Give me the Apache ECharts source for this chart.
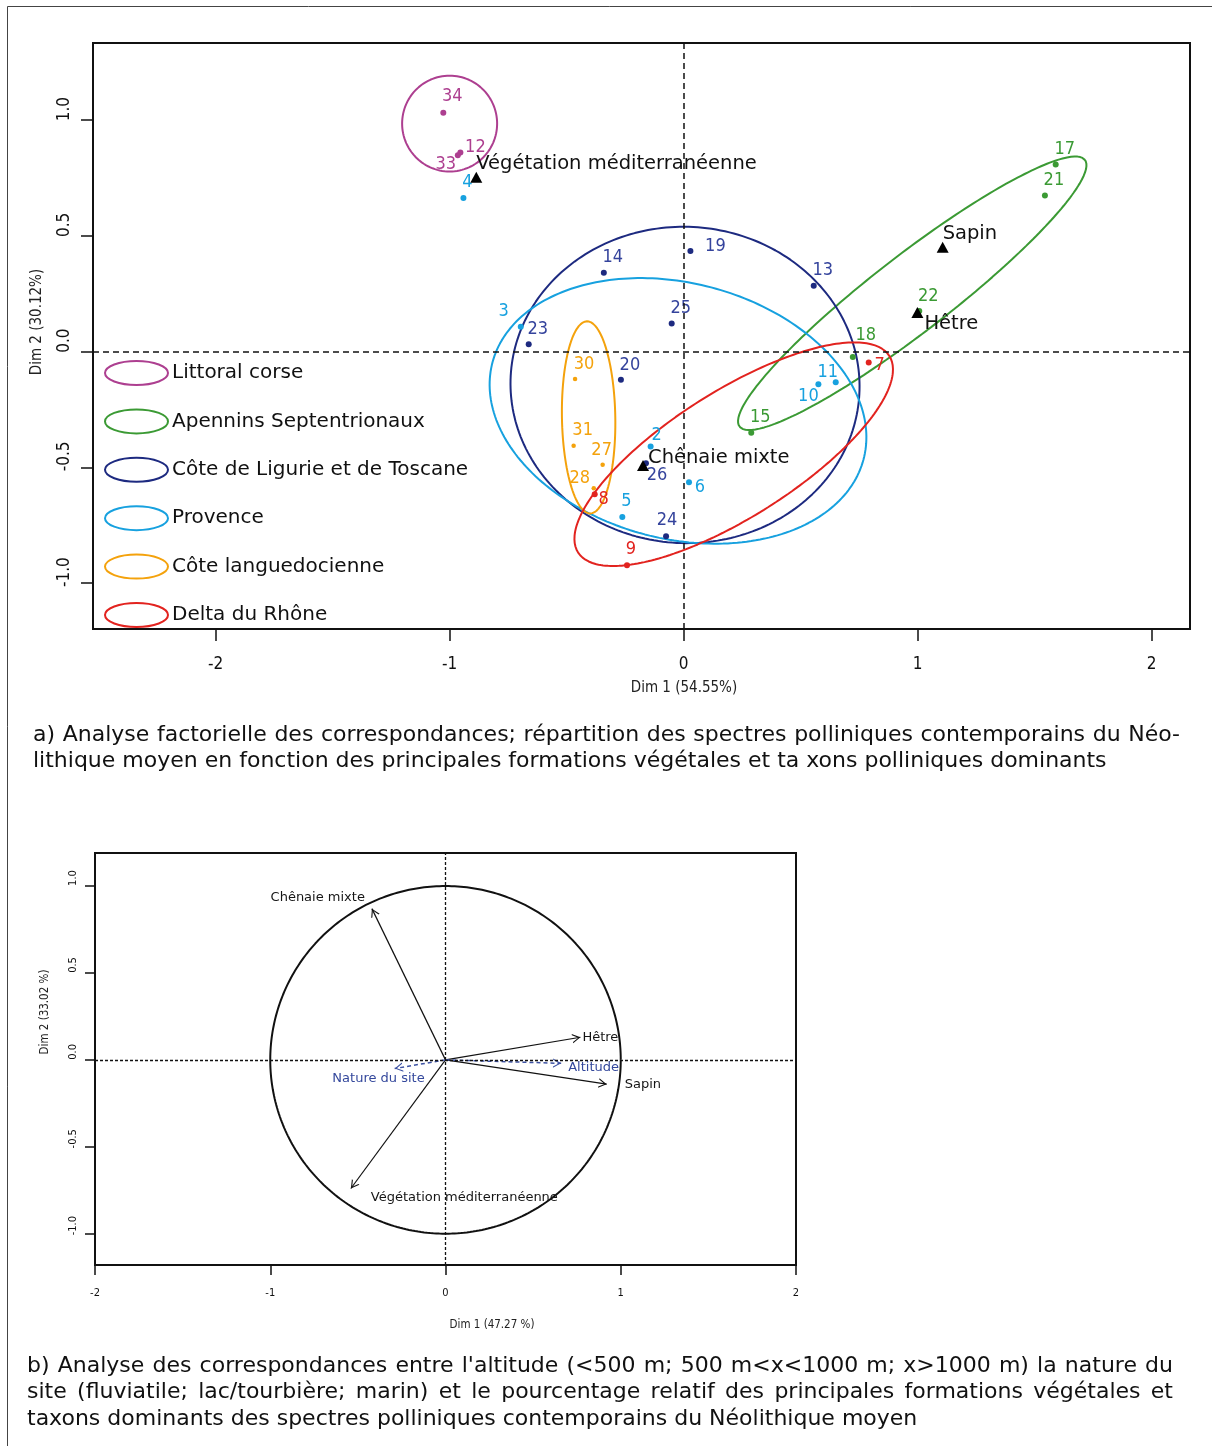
<!DOCTYPE html>
<html>
<head>
<meta charset="utf-8">
<script src="https://cdn.jsdelivr.net/npm/echarts@6/dist/echarts.min.js"></script>
<style>
  html, body { margin: 0; padding: 0; background: #fff; }
  #chart { width: 1212px; height: 1446px; }
</style>
</head>
<body>
<div id="chart"></div>
<script>
// ---- (a) site scores on Dim 1 / Dim 2: [site number, Dim 1, Dim 2] ----
const littoralCorse = [[34, -1.027, 1.032], [12, -0.954, 0.860], [33, -0.965, 0.848]];
const apennins = [[17, 1.590, 0.808], [21, 1.544, 0.674], [22, 1.007, 0.176], [18, 0.723, -0.023], [15, 0.289, -0.350]];
const ligurieToscane = [[14, -0.341, 0.341], [19, 0.029, 0.435], [13, 0.556, 0.285], [23, -0.662, 0.032],
                        [25, -0.051, 0.121], [20, -0.268, -0.122], [26, -0.161, -0.482], [24, -0.075, -0.797]];
const provence = [[3, -0.696, 0.107], [4, -0.941, 0.664], [2, -0.141, -0.410], [5, -0.262, -0.714],
                  [6, 0.023, -0.564], [10, 0.576, -0.141], [11, 0.650, -0.132]];
const languedoc = [[30, -0.464, -0.118], [31, -0.470, -0.406], [27, -0.346, -0.489], [28, -0.384, -0.590]];
const deltaRhone = [[7, 0.791, -0.047], [8, -0.380, -0.616], [9, -0.242, -0.923]];

// dominant taxa / vegetation formations: [name, Dim 1, Dim 2]
const taxaA = [['Végétation méditerranéenne', -0.886, 0.753], ['Chênaie mixte', -0.1735, -0.492],
               ['Sapin', 1.107, 0.451], ['Hêtre', 0.999, 0.169]];

// group ellipses: [centre Dim 1, centre Dim 2, semi-axis a, semi-axis b, rotation in degrees]
const ellLittoralCorse = [-1.000, 0.985, 0.203, 0.207, 0];
const ellApennins = [0.977, 0.252, 0.936, 0.165, 38];
const ellLigurieToscane = [0.006, -0.144, 0.746, 0.683, -3];
const ellProvence = [-0.024, -0.256, 0.820, 0.552, -14.9];
const ellLanguedoc = [-0.406, -0.284, 0.114, 0.415, 1];
const ellDeltaRhone = [0.214, -0.443, 0.789, 0.272, 32.6];

const ticksAx = [-2, -1, 0, 1, 2];
const ticksAy = [-1, -0.5, 0, 0.5, 1];

// ---- (b) correlation circle: [variable, Dim 1, Dim 2] ----
const activeVars = [['Chênaie mixte', -0.42, 0.87], ['Hêtre', 0.77, 0.13], ['Sapin', 0.92, -0.14],
                    ['Végétation méditerranéenne', -0.54, -0.74]];
const supplementaryVars = [['Altitude', 0.66, -0.02], ['Nature du site', -0.29, -0.05]];
const ticksBx = [-2, -1, 0, 1, 2];
const ticksBy = [-1, -0.5, 0, 0.5, 1];

const captionA = [
  'a) Analyse factorielle des correspondances; répartition des spectres polliniques contemporains du Néo-',
  'lithique moyen en fonction des principales formations végétales et ta xons polliniques dominants'
];
const captionB = [
  "b) Analyse des correspondances entre l'altitude (<500 m; 500 m<x<1000 m; x>1000 m) la nature du",
  'site (fluviatile; lac/tourbière; marin) et le pourcentage relatif des principales formations végétales et',
  'taxons dominants des spectres polliniques contemporains du Néolithique moyen'
];

// ---- styling / layout ----
const NUM = '"Liberation Sans Narrow", "Arial Narrow", "DejaVu Sans Condensed", sans-serif';
const TXT = '"DejaVu Sans", Verdana, sans-serif';
const COND = '"DejaVu Sans Condensed", "DejaVu Sans", sans-serif';

const groups = [
  { name: 'Littoral corse', color: '#ad3f90', pts: littoralCorse, ell: ellLittoralCorse, dot: 6 },
  { name: 'Apennins Septentrionaux', color: '#3b9a34', pts: apennins, ell: ellApennins, dot: 6 },
  { name: 'Côte de Ligurie et de Toscane', color: '#1d2a80', pts: ligurieToscane, ell: ellLigurieToscane, dot: 6, text: '#34439c' },
  { name: 'Provence', color: '#17a1df', pts: provence, ell: ellProvence, dot: 6 },
  { name: 'Côte languedocienne', color: '#f4a20c', pts: languedoc, ell: ellLanguedoc, dot: 4.5 },
  { name: 'Delta du Rhône', color: '#e2231f', pts: deltaRhone, ell: ellDeltaRhone, dot: 6 }
];

// label placement around each site dot (pixels, label centre relative to dot)
const siteLabelDefault = [9, -15];
const siteLabelNudge = {
  34: [9, -16], 12: [15, -5], 33: [-12, 9], 4: [4, -16], 19: [25, -5], 3: [-17, -16], 18: [13, -22],
  7: [11, 3], 11: [-8, -10], 10: [-10, 12], 2: [6, -11], 27: [-1, -15], 28: [-14, -10], 8: [9, 5],
  26: [11, 12], 6: [11, 5], 5: [4, -16], 24: [1, -16], 9: [4, -16]
};
const taxonLabelA = {
  'Végétation méditerranéenne': [0, -13], 'Chênaie mixte': [5, -8], 'Sapin': [0, -13], 'Hêtre': [7, 11]
};
const varLabelB = {
  'Chênaie mixte': ['right', -7, -11], 'Hêtre': ['left', 2, 0], 'Sapin': ['left', 18, 0],
  'Végétation méditerranéenne': ['left', 20, 9], 'Altitude': ['left', 7, 4], 'Nature du site': ['right', 30, 10]
};

// outline of an ellipse in data coordinates
function ellipseOutline(e, n) {
  const [cx, cy, a, b, deg] = e;
  const r = deg * Math.PI / 180, c = Math.cos(r), s = Math.sin(r);
  const out = [];
  for (let i = 0; i <= n; i++) {
    const t = 2 * Math.PI * i / n;
    const u = a * Math.cos(t), v = b * Math.sin(t);
    out.push([cx + u * c - v * s, cy + u * s + v * c]);
  }
  return out;
}

// open arrow head, tip at the centre of its box so it ends exactly on the vector end
const ARROW = 'path://M0,0L0.01,0L0,0.01Z M20,20L19.99,20L20,19.99Z M4.8,19 L10,10 L15.2,19 L13.8,19 L10,12.4 L6.2,19 Z';
const LEGEND_ICON = 'path://M0,12A31.5,12,0,1,1,63,12A31.5,12,0,1,1,0,12Z';

// caption rows; justified rows spread their words between x0 and x1
const measureCtx = document.createElement('canvas').getContext('2d');
function textRow(str, x0, x1, y, size, justify) {
  const style = (t) => ({ text: t, fontSize: size, fontFamily: TXT, fill: '#111', align: 'left', verticalAlign: 'middle' });
  if (!justify) return [{ type: 'text', x: x0, y: y, silent: true, style: style(str) }];
  measureCtx.font = size + 'px ' + TXT;
  const words = str.split(' ');
  const w = words.map(t => measureCtx.measureText(t).width);
  const gap = (x1 - x0 - w.reduce((p, q) => p + q, 0)) / (words.length - 1);
  let x = x0;
  return words.map((t, i) => {
    const el = { type: 'text', x: x, y: y, silent: true, style: style(t) };
    x += w[i] + gap;
    return el;
  });
}

const series = [];

// (a) group ellipses
groups.forEach(g => {
  series.push({
    type: 'line', name: g.name, xAxisIndex: 0, yAxisIndex: 0, z: 2, silent: true,
    showSymbol: false, symbol: 'none', animation: false,
    lineStyle: { color: g.color, width: 2 },
    data: ellipseOutline(g.ell, 240)
  });
});
// (a) site dots with their numbers
groups.forEach(g => {
  series.push({
    type: 'scatter', name: g.name, xAxisIndex: 0, yAxisIndex: 0, z: 3, silent: true,
    symbol: 'circle', symbolSize: g.dot, itemStyle: { color: g.color, opacity: 1 },
    label: {
      show: true, position: 'inside', align: 'center', verticalAlign: 'middle', formatter: '{b}',
      color: g.text || g.color, fontSize: 18, fontFamily: NUM
    },
    data: g.pts.map(p => ({
      name: String(p[0]), value: [p[1], p[2]],
      label: { offset: siteLabelNudge[p[0]] || siteLabelDefault }
    }))
  });
});
// (a) taxa triangles + dashed origin axes
series.push({
  type: 'scatter', name: 'taxons', xAxisIndex: 0, yAxisIndex: 0, z: 4, silent: true,
  symbol: 'triangle', symbolSize: [12, 11], itemStyle: { color: '#000', opacity: 1 },
  label: {
    show: true, position: 'inside', align: 'left', verticalAlign: 'middle', formatter: '{b}',
    color: '#111', fontSize: 19.5, fontFamily: TXT
  },
  data: taxaA.map(t => ({ name: t[0], value: [t[1], t[2]], label: { offset: taxonLabelA[t[0]] } })),
  markLine: {
    silent: true, symbol: 'none', label: { show: false }, animation: false,
    lineStyle: { color: '#111', type: [6, 4], width: 1.5 },
    data: [{ xAxis: 0 }, { yAxis: 0 }]
  }
});

// (b) correlation circle and dashed origin axes
series.push({
  type: 'line', name: 'cercle', xAxisIndex: 1, yAxisIndex: 1, z: 2, silent: true,
  showSymbol: false, symbol: 'none', lineStyle: { color: '#111', width: 2 },
  data: ellipseOutline([0, 0, 1, 1, 0], 360),
  markLine: {
    silent: true, symbol: 'none', label: { show: false }, animation: false,
    lineStyle: { color: '#111', type: [3, 2], width: 1.3 },
    data: [{ xAxis: 0 }, { yAxis: 0 }]
  }
});
// (b) active variable arrows
series.push({
  type: 'lines', coordinateSystem: 'cartesian2d', xAxisIndex: 1, yAxisIndex: 1, z: 4, silent: true,
  symbol: ['none', ARROW], symbolSize: 18,
  lineStyle: { color: '#111', width: 1.2, opacity: 1, curveness: 0 },
  data: activeVars.map(v => ({ coords: [[0, 0], [v[1], v[2]]] }))
});
// (b) supplementary variable arrows (dashed)
series.push({
  type: 'lines', coordinateSystem: 'cartesian2d', xAxisIndex: 1, yAxisIndex: 1, z: 4, silent: true,
  symbol: ['none', ARROW], symbolSize: 18,
  lineStyle: { color: '#3d52a3', width: 1.5, opacity: 1, type: [4, 3], curveness: 0 },
  data: supplementaryVars.map(v => ({ coords: [[0, 0], [v[1], v[2]]] }))
});
// (b) arrow names
function varLabels(list, color) {
  return {
    type: 'scatter', xAxisIndex: 1, yAxisIndex: 1, z: 5, silent: true,
    symbolSize: 1, itemStyle: { color: 'rgba(0,0,0,0)', opacity: 1 },
    label: { show: true, position: 'inside', verticalAlign: 'middle', formatter: '{b}', color: color, fontSize: 13, fontFamily: TXT, opacity: 1 },
    data: list.map(v => {
      const l = varLabelB[v[0]];
      return { name: v[0], value: [v[1], v[2]], label: { align: l[0], offset: [l[1], l[2]] } };
    })
  };
}
series.push(varLabels(activeVars, '#151515'));
series.push(varLabels(supplementaryVars, '#34489c'));

function valueAxis(gridIndex, min, max, ticks, opts) {
  return {
    type: 'value', gridIndex: gridIndex, min: min, max: max,
    axisLine: { show: false, onZero: false }, splitLine: { show: false },
    axisTick: { show: true, customValues: ticks, length: opts.tick, lineStyle: { color: '#111', width: 1.5 } },
    axisLabel: {
      customValues: ticks, margin: opts.margin, color: '#111', fontSize: opts.font, fontFamily: NUM,
      rotate: opts.rotate || 0, padding: opts.padding || 0, formatter: opts.fmt
    }
  };
}

const graphics = [
  { type: 'polyline', silent: true, shape: { points: [[7.5, 1446], [7.5, 6.5], [1212, 6.5]] }, style: { stroke: '#444', lineWidth: 1, fill: null } },
  { type: 'text', x: 684, y: 688, silent: true, style: { text: 'Dim 1 (54.55%)', fontSize: 15, fontFamily: COND, fill: '#222', align: 'center', verticalAlign: 'middle' } },
  { type: 'text', x: 37, y: 322, rotation: Math.PI / 2, silent: true, style: { text: 'Dim 2 (30.12%)', fontSize: 15, fontFamily: COND, fill: '#222', align: 'center', verticalAlign: 'middle' } },
  { type: 'text', x: 492, y: 1325, silent: true, style: { text: 'Dim 1 (47.27 %)', fontSize: 11.5, fontFamily: COND, fill: '#222', align: 'center', verticalAlign: 'middle' } },
  { type: 'text', x: 45, y: 1012, rotation: Math.PI / 2, silent: true, style: { text: 'Dim 2 (33.02 %)', fontSize: 11.5, fontFamily: COND, fill: '#222', align: 'center', verticalAlign: 'middle' } }
]
  .concat(textRow(captionA[0], 33, 1180, 735, 22, true))
  .concat(textRow(captionA[1], 33, 1180, 761, 22, false))
  .concat(textRow(captionB[0], 27, 1173, 1366, 22, true))
  .concat(textRow(captionB[1], 27, 1173, 1392, 22, true))
  .concat(textRow(captionB[2], 27, 1173, 1419, 22, false));

const option = {
  animation: false,
  backgroundColor: '#fff',
  grid: [
    { left: 93, top: 43, width: 1097, height: 586, show: true, borderColor: '#111', borderWidth: 2, outerBoundsMode: 'none', containLabel: false },
    { left: 95, top: 853, width: 701, height: 412, show: true, borderColor: '#111', borderWidth: 2, outerBoundsMode: 'none', containLabel: false }
  ],
  xAxis: [
    valueAxis(0, -2.524, 2.164, ticksAx, { tick: 12, margin: 27, font: 17, fmt: v => String(v) }),
    valueAxis(1, -2, 2, ticksBx, { tick: 10, margin: 23, font: 11, fmt: v => String(v) })
  ],
  yAxis: [
    valueAxis(0, -1.198, 1.333, ticksAy, { tick: 12, margin: 20, font: 17, rotate: 90, padding: [0, 0, 0, 22], fmt: v => v.toFixed(1) }),
    valueAxis(1, -1.18, 1.19, ticksBy, { tick: 10, margin: 16, font: 11, rotate: 90, padding: [0, 0, 0, 16], fmt: v => v.toFixed(1) })
  ],
  legend: {
    orient: 'vertical', left: 104, top: 360, padding: 0, itemGap: 22.4,
    itemWidth: 63, itemHeight: 24, selectedMode: false,
    textStyle: { fontSize: 20, fontFamily: TXT, color: '#111', padding: [0, 0, 0, -1] },
    data: groups.map(g => ({
      name: g.name, icon: LEGEND_ICON,
      itemStyle: { color: 'rgba(0,0,0,0)', borderColor: g.color, borderWidth: 2 }
    }))
  },
  graphic: graphics,
  series: series
};

const chart = echarts.init(document.getElementById('chart'), null, { renderer: 'canvas' });
chart.setOption(option);
</script>
</body>
</html>
